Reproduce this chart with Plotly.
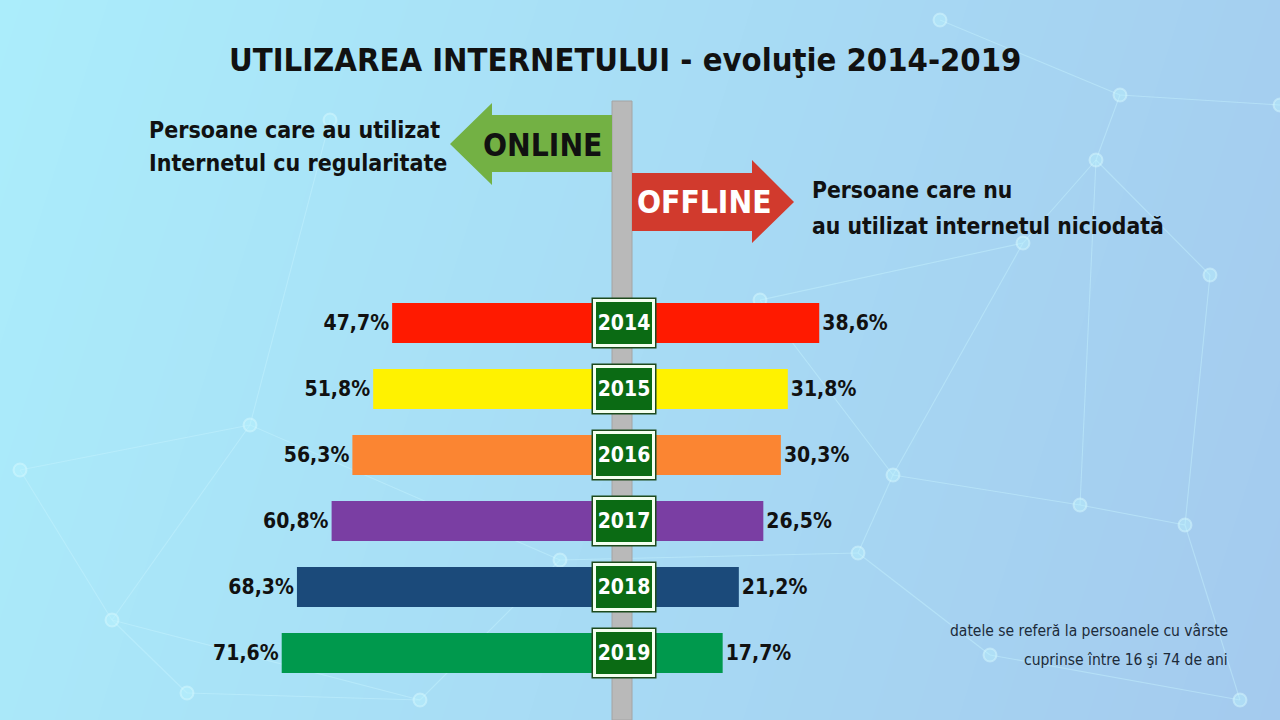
import plotly.graph_objects as go

years = ["2014", "2015", "2016", "2017", "2018", "2019"]
online = [47.7, 51.8, 56.3, 60.8, 68.3, 71.6]
offline = [38.6, 31.8, 30.3, 26.5, 21.2, 17.7]
bar_colors = ["#ff1a00", "#fff200", "#fb8532", "#7a3ea3", "#1b4a7a", "#00994d"]

title = "UTILIZAREA INTERNETULUI - evoluţie 2014-2019"
online_lines = ["Persoane care au utilizat", "Internetul cu regularitate"]
offline_lines = ["Persoane care nu", "au utilizat internetul niciodată"]
note_lines = ["datele se referă la persoanele cu vârste", "cuprinse între 16 şi 74 de ani"]

FONT = "DejaVu Sans Condensed, Roboto, sans-serif"
W, H = 1280, 720

# pixel layout of the sign post
center_px = 622.5
px_per_pct = 4.62
left_gap = 10 / px_per_pct
right_gap = 18.4 / px_per_pct
row0_px, row_step = 323, 66


def fmt(v):
    return f"{v:.1f}".replace(".", ",") + "%"


fig = go.Figure()

# background gradient (base axes are in pixels)
gx = [0, 320, 640, 960, 1280]
gy = [0, 180, 360, 540, 720]
gz = [[0.85 * (x / W) + 0.15 * (y / H) for x in gx] for y in gy]
fig.add_trace(go.Heatmap(
    x=gx, y=gy, z=gz, zsmooth="best", showscale=False, hoverinfo="skip",
    colorscale=[[0, "#abedfb"], [1, "#a4caee"]],
))

# faint network decoration
nodes = {
    "a": (1120, 95), "b": (1096, 160), "c": (1023, 243), "d": (1280, 105),
    "e": (1210, 275), "f": (893, 475), "g": (858, 553), "h": (1080, 505),
    "i": (990, 655), "j": (1185, 525), "k": (112, 620), "l": (187, 693),
    "m": (250, 425), "n": (20, 470), "o": (420, 700), "p": (760, 300),
    "q": (330, 120), "r": (940, 20), "s": (1240, 700), "t": (560, 560),
}
edges = [("a", "b"), ("a", "d"), ("a", "r"), ("b", "c"), ("b", "e"), ("c", "p"),
         ("c", "f"), ("b", "h"), ("e", "j"), ("f", "g"), ("f", "h"), ("g", "i"),
         ("h", "j"), ("i", "s"), ("j", "s"), ("k", "l"), ("k", "m"), ("k", "n"),
         ("m", "n"), ("l", "o"), ("m", "q"), ("o", "t"), ("m", "t"), ("p", "f"),
         ("g", "t"), ("k", "o")]
ex, ey = [], []
for a, b in edges:
    ex += [nodes[a][0], nodes[b][0], None]
    ey += [nodes[a][1], nodes[b][1], None]
fig.add_trace(go.Scatter(x=ex, y=ey, mode="lines", hoverinfo="skip", showlegend=False,
                         line=dict(color="rgba(200,245,255,0.45)", width=1.1)))
fig.add_trace(go.Scatter(x=[p[0] for p in nodes.values()], y=[p[1] for p in nodes.values()],
                         mode="markers", hoverinfo="skip", showlegend=False,
                         marker=dict(size=13, color="rgba(190,245,255,0.4)",
                                     line=dict(color="rgba(220,250,255,0.45)", width=2))))

# pole
fig.add_trace(go.Scatter(x=[612, 632, 632, 612, 612], y=[101, 101, 720, 720, 101],
                         fill="toself", fillcolor="#b9b9b9", mode="lines",
                         line=dict(color="#a4a4a4", width=1), hoverinfo="skip", showlegend=False))
# ONLINE arrow (pointing left)
fig.add_trace(go.Scatter(x=[612, 492, 492, 450, 492, 492, 612, 612],
                         y=[115, 115, 103, 144, 185, 172, 172, 115],
                         fill="toself", fillcolor="#73b144", mode="none",
                         hoverinfo="skip", showlegend=False))
# OFFLINE arrow (pointing right)
fig.add_trace(go.Scatter(x=[632, 752, 752, 794, 752, 752, 632, 632],
                         y=[173, 173, 160, 202, 243, 231, 231, 173],
                         fill="toself", fillcolor="#d13a2d", mode="none",
                         hoverinfo="skip", showlegend=False))

# bars on the overlaying axes
fig.add_trace(go.Bar(
    y=years, x=[-v for v in online], base=-left_gap, orientation="h",
    marker=dict(color=bar_colors, line=dict(width=0)), width=0.606,
    text=[fmt(v) for v in online], textposition="outside", cliponaxis=False,
    textfont=dict(family=FONT, size=21, color="#111111", weight="bold"),
    xaxis="x2", yaxis="y2", showlegend=False, name="Online",
))
fig.add_trace(go.Bar(
    y=years, x=offline, base=right_gap, orientation="h",
    marker=dict(color=bar_colors, line=dict(width=0)), width=0.606,
    text=[fmt(v) for v in offline], textposition="outside", cliponaxis=False,
    textfont=dict(family=FONT, size=21, color="#111111", weight="bold"),
    xaxis="x2", yaxis="y2", showlegend=False, name="Offline",
))

# year plates (category axis -> use the serial number of each year)
for i, yr in enumerate(years):
    fig.add_annotation(x=0.3, y=i, xref="x2", yref="y2", text=" ", showarrow=False,
                       bgcolor="#1d4a1d", width=64, height=50, borderpad=0)
    fig.add_annotation(x=0.3, y=i, xref="x2", yref="y2", text=yr, showarrow=False,
                       font=dict(family=FONT, size=21, color="white", weight="bold"),
                       bgcolor="#0b6b14", bordercolor="#f4fff0", borderwidth=3,
                       width=56, height=42, borderpad=0)


def px_note(text, x, y, size, color="#111111", bold=True, xanchor="left"):
    fig.add_annotation(x=x / W, y=1 - y / H, xref="paper", yref="paper", text=text,
                       showarrow=False, xanchor=xanchor, yanchor="middle",
                       font=dict(family=FONT, size=size, color=color,
                                 weight="bold" if bold else "normal"))


px_note(title, 625, 60, 32.5, xanchor="center")
px_note(online_lines[0], 147, 130, 23)
px_note(online_lines[1], 147, 163, 23)
px_note(offline_lines[0], 810, 190, 22.7)
px_note(offline_lines[1], 810, 226, 22.7)
px_note("ONLINE", 542, 145, 31.5, color="#111111", xanchor="center")
px_note("OFFLINE", 704, 202, 31.5, color="white", xanchor="center")
px_note(note_lines[0], 1230, 631, 15.5, color="#1c2b3a", bold=False, xanchor="right")
px_note(note_lines[1], 1230, 660, 15.5, color="#1c2b3a", bold=False, xanchor="right")

fig.update_layout(
    width=W, height=H,
    margin=dict(l=0, r=0, t=0, b=0),
    paper_bgcolor="#a8dcf6", plot_bgcolor="#a8dcf6",
    barmode="overlay", showlegend=False,
    xaxis=dict(range=[0, W], visible=False, fixedrange=True),
    yaxis=dict(range=[H, 0], visible=False, fixedrange=True),
    xaxis2=dict(overlaying="x", visible=False, fixedrange=True,
                range=[-center_px / px_per_pct, (W - center_px) / px_per_pct]),
    yaxis2=dict(overlaying="y", type="category", visible=False, fixedrange=True,
                categoryorder="array", categoryarray=years,
                range=[(H - row0_px) / row_step, -row0_px / row_step]),
)

fig.write_html("out.html", config={"displayModeBar": False},
               post_script="document.body.style.margin='0';")
